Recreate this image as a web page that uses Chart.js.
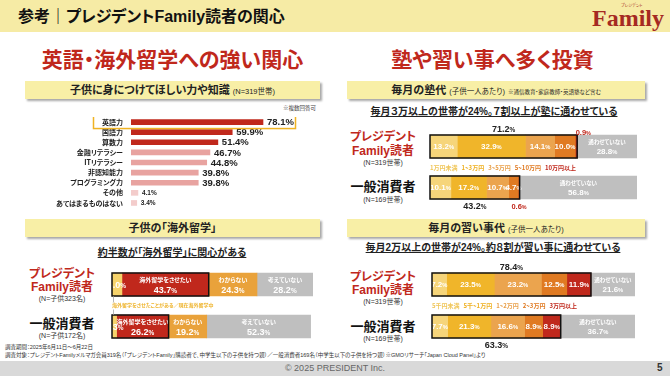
<!DOCTYPE html>
<html lang="ja">
<head>
<meta charset="utf-8">
<script src="https://cdn.jsdelivr.net/npm/chart.js@4.4.1/dist/chart.umd.min.js"></script>
<style>
body{margin:0;width:670px;height:376px;position:relative;overflow:hidden;background:#fff;
  font-family:'Liberation Sans','Noto Sans CJK JP',sans-serif;color:#222;font-feature-settings:"palt"}
.a{position:absolute;white-space:nowrap}
.c{text-align:center}
.band{position:absolute;left:0;top:0;width:670px;height:32px;background:#f6eba5}
.foot{position:absolute;left:0;top:361px;width:670px;height:15px;background:#d9d9d9}
.box{position:absolute;height:18px;line-height:18px;background:#f8efa6;box-shadow:2px 2px 2px #a9a9a9;text-align:center;font-weight:700;font-size:11px;white-space:nowrap}
.box small{font-weight:400;font-size:7.5px}
.box i{font-style:normal;font-weight:400;font-size:5.5px}
.big{font-size:21px;font-weight:700;color:#c0281c;line-height:24px}
.sub{font-size:10px;font-weight:700;text-decoration:underline;line-height:12px}
.red{color:#c0281c;font-weight:700;font-size:12px;line-height:13px}
.blk{color:#111;font-weight:700;font-size:13px;line-height:14px}
.n{font-size:7px;color:#333;line-height:9px}
.note{font-size:5.5px;color:#333;line-height:7px}
canvas{position:absolute}
</style>
</head>
<body>
<div class="band"></div>
<div class="a" style="left:18px;top:7px;font-size:16px;font-weight:700;line-height:20px;color:#111">参考｜プレジデントFamily読者の関心</div>
<div class="a" style="left:621px;top:3px;font-size:4px;color:#a52a22;line-height:5px">プレジデント</div>
<div class="a" style="left:592px;top:6px;font-family:'Liberation Serif',serif;font-weight:700;font-size:24px;line-height:24px;color:#a52a22">Family</div>

<div class="a c big" style="left:20px;top:48px;width:305px">英語・海外留学への強い関心</div>
<div class="a c big" style="left:345px;top:48px;width:295px">塾や習い事へ多く投資</div>

<div class="box" style="left:25px;top:81px;width:295px">子供に身につけてほしい力や知識 <small>(N=319世帯)</small></div>
<div class="box" style="left:347px;top:81px;width:298px">毎月の塾代 <small>(子供一人あたり)</small> <i>※通信教育・家庭教師・英語塾など含む</i></div>
<div class="box" style="left:25px;top:219px;width:295px">子供の「海外留学」</div>
<div class="box" style="left:347px;top:219px;width:298px">毎月の習い事代 <small>(子供一人あたり)</small></div>

<div class="a" style="left:283px;top:104px;font-size:5.5px;color:#444">※複数回答可</div>

<div class="a c sub" style="left:72px;top:247px;width:200px">約半数が「海外留学」に関心がある</div>
<div class="a c sub" style="left:364px;top:106px;width:260px">毎月３万以上の世帯が24%。７割以上が塾に通わせている</div>
<div class="a c sub" style="left:363px;top:242px;width:260px">毎月2万以上の世帯が24%。約８割が習い事に通わせている</div>

<div class="a c red" style="left:22px;top:268px;width:80px">プレジデント</div>
<div class="a c red" style="left:22px;top:281px;width:80px">Family読者</div>
<div class="a c n" style="left:22px;top:294px;width:80px">(N=子供323名)</div>
<div class="a c blk" style="left:22px;top:317px;width:80px">一般消費者</div>
<div class="a c n" style="left:22px;top:331px;width:80px">(N=子供172名)</div>

<div class="a c red" style="left:343px;top:131px;width:80px">プレジデント</div>
<div class="a c red" style="left:343px;top:145px;width:80px">Family読者</div>
<div class="a c n" style="left:343px;top:158px;width:80px">(N=319世帯)</div>
<div class="a c blk" style="left:343px;top:180px;width:80px">一般消費者</div>
<div class="a c n" style="left:343px;top:195px;width:80px">(N=169世帯)</div>

<div class="a c red" style="left:343px;top:271px;width:80px">プレジデント</div>
<div class="a c red" style="left:343px;top:284px;width:80px">Family読者</div>
<div class="a c n" style="left:343px;top:297px;width:80px">(N=319世帯)</div>
<div class="a c blk" style="left:343px;top:320px;width:80px">一般消費者</div>
<div class="a c n" style="left:343px;top:334px;width:80px">(N=169世帯)</div>

<div class="a note" style="left:5px;top:344px">調査期間：2025年6月11日～6月22日</div>
<div class="a note" style="left:5px;top:352px">調査対象：プレジデントFamilyメルマガ会員319名（「プレジデントFamily」購読者で、中学生以下の子供を持つ親）／一般消費者169名（中学生以下の子供を持つ親）※GMOリサーチ「Japan Cloud Panel」より</div>

<div class="foot"></div>
<div class="a c" style="left:235px;top:363px;width:200px;font-size:9px;line-height:11px;color:#666">© 2025 PRESIDENT Inc.</div>
<div class="a" style="left:657px;top:362px;font-size:10px;line-height:12px;color:#333;font-weight:700">5</div>

<canvas id="skillChart" width="300" height="91" style="left:0;top:117px"></canvas>
<canvas id="abroadChart" width="215" height="92" style="left:105px;top:258px"></canvas>
<canvas id="jukuChart" width="220" height="92" style="left:425px;top:120px"></canvas>
<canvas id="lessonChart" width="220" height="92" style="left:425px;top:258px"></canvas>

<script>
var JP = "'Noto Sans CJK JP'";
var NUM = "'Liberation Sans','Noto Sans CJK JP'";

// 子供に身につけてほしい力や知識
var skillLabels = ['英語力', '国語力', '算数力', '金融リテラシー', 'ITリテラシー', '非認知能力', 'プログラミング力', 'その他', 'あてはまるものはない'];
var skillValues = [78.1, 59.9, 51.4, 46.7, 44.8, 39.8, 39.8, 4.1, 3.4];

// 海外留学
var groupLabels = ['プレジデントFamily読者', '一般消費者'];
var abroadDone = [5.0, 2.3];
var abroadWant = [43.7, 26.2];
var abroadUnsure = [24.3, 19.2];
var abroadNot = [28.2, 52.3];

// 塾代
var jukuBands = ['1万円未満', '1~3万円', '3~5万円', '5~10万円', '10万円以上'];
var jukuUnder1 = [13.2, 10.1];
var juku1to3 = [32.9, 17.2];
var juku3to5 = [14.1, 10.7];
var juku5to10 = [10.0, 4.7];
var juku10plus = [0.9, 0.6];
var jukuNone = [28.8, 56.8];
var jukuTotal = [71.2, 43.2];

// 習い事代
var lessonBands = ['5千円未満', '5千~1万円', '1~2万円', '2~3万円', '3万円以上'];
var lessonUnder5k = [7.2, 7.7];
var lesson5kto1 = [23.5, 21.3];
var lesson1to2 = [23.2, 16.6];
var lesson2to3 = [12.5, 8.9];
var lesson3plus = [11.9, 8.9];
var lessonNone = [21.6, 36.7];
var lessonTotal = [78.4, 63.3];

var skillColors = ['#c0281c', '#c0281c', '#c0281c', '#e8a3a0', '#e8a3a0', '#e8a3a0', '#e8a3a0', '#f3cccb', '#f3cccb'];
var bandColors = ['#f6d57a', '#f0b52a', '#eba44e', '#e07a22', '#c0281c'];
var bandTextColors = ['#f0c659', '#efb020', '#e9a04a', '#e07a22', '#c0281c'];
var GRAY = '#bfbfbf';

function pct(ctx, v, x, y, size, color, align) {
    var n = v.toFixed(1), s2 = size * 0.72;
    ctx.font = 'bold ' + size + 'px ' + NUM;
    var w1 = ctx.measureText(n).width;
    ctx.font = 'bold ' + s2 + 'px ' + NUM;
    var w2 = ctx.measureText('%').width;
    var x0 = align == 'left' ? x : x - (w1 + w2) / 2;
    ctx.fillStyle = color;
    ctx.textAlign = 'left';
    ctx.textBaseline = 'alphabetic';
    ctx.font = 'bold ' + size + 'px ' + NUM;
    ctx.fillText(n, x0, y + size * 0.36);
    ctx.font = 'bold ' + s2 + 'px ' + NUM;
    ctx.fillText('%', x0 + w1, y + size * 0.36);
}

var skillPlugin = {
    id: 'skillPlugin',
    afterDatasetsDraw: function(chart) {
        var ctx = chart.ctx;
        var meta = chart.getDatasetMeta(0);
        ctx.save();
        meta.data.forEach(function(b, i) {
            var v = skillValues[i];
            var size = v < 10 ? 6.5 : 9.5;
            ctx.font = 'bold ' + size + 'px ' + NUM;
            ctx.fillStyle = '#222';
            ctx.textAlign = 'left';
            ctx.textBaseline = 'middle';
            ctx.fillText(v.toFixed(1) + '%', b.x + 4, b.y + 0.5);
        });
        // highlight round the first row
        var b0 = meta.data[0];
        ctx.strokeStyle = '#f0b323';
        ctx.lineWidth = 1.5;
        ctx.strokeRect(93.5, b0.y - 6.5, 202, 13);
        ctx.restore();
    }
};

new Chart(document.getElementById('skillChart'), {
    type: 'bar',
    data: {
        labels: skillLabels,
        datasets: [{ data: skillValues, backgroundColor: skillColors, barThickness: 5 }]
    },
    options: {
        indexAxis: 'y',
        responsive: false,
        animation: false,
        layout: { padding: 0 },
        plugins: { legend: { display: false }, tooltip: { enabled: false } },
        scales: {
            x: { display: false, min: 0, max: 100 },
            y: {
                afterFit: function(s) {
                    s.width = 131;
                    s.paddingTop = 0;
                    s.paddingBottom = 0;
                },
                grid: { display: false, drawTicks: false },
                border: { display: false },
                ticks: { autoSkip: false, padding: 8, color: '#222', font: { family: JP, size: 7, weight: 'bold' } }
            }
        }
    },
    plugins: [skillPlugin]
});

var segLabels = {
    id: 'segLabels',
    afterDatasetsDraw: function(chart, args, opts) {
        var ctx = chart.ctx;
        ctx.save();
        chart.data.datasets.forEach(function(ds, di) {
            chart.getDatasetMeta(di).data.forEach(function(el, i) {
                var v = ds.data[i];
                if (v < 2) return;
                var cx = (el.x + el.base) / 2;
                var t = opts.titles[di];
                if (t) {
                    ctx.font = 'bold ' + opts.titleSize[di] + 'px ' + JP;
                    ctx.fillStyle = '#fff';
                    ctx.textAlign = 'center';
                    ctx.textBaseline = 'middle';
                    ctx.fillText(t, cx, el.y - 4.5);
                    pct(ctx, v, cx, el.y + 5, opts.size, '#fff');
                } else {
                    pct(ctx, v, cx, el.y, opts.size, '#fff');
                }
            });
        });
        // black frame round the "yes" part
        var m0 = chart.getDatasetMeta(0), mE = chart.getDatasetMeta(opts.borderEnd);
        ctx.strokeStyle = '#111';
        ctx.lineWidth = 1.5;
        m0.data.forEach(function(el, i) {
            var r = mE.data[i];
            ctx.strokeRect(el.base, el.y - el.height / 2, r.x - el.base, el.height);
        });
        if (opts.extra) opts.extra(chart, ctx);
        ctx.restore();
    }
};

function drawBands(chart, ctx, names, y) {
    var x = chart.chartArea.left;
    ctx.font = 'bold 6px ' + JP;
    ctx.textAlign = 'left';
    ctx.textBaseline = 'middle';
    names.forEach(function(n, i) {
        ctx.fillStyle = bandTextColors[i];
        ctx.fillText(n, x, y);
        x += ctx.measureText(n).width + 4;
    });
}

function drawTotals(chart, ctx, totals, endIdx, smallIdx) {
    var m0 = chart.getDatasetMeta(0), mE = chart.getDatasetMeta(endIdx);
    var mS = smallIdx != null ? chart.getDatasetMeta(smallIdx) : null;
    [0, 1].forEach(function(i) {
        var a = m0.data[i], b = mE.data[i];
        var cx = (a.base + b.x) / 2;
        var y = i == 0 ? a.y - a.height / 2 - 6 : a.y + a.height / 2 + 7;
        pct(ctx, totals[i], cx, y, 9, '#222');
        if (mS) {
            var s = mS.data[i];
            var sx = (s.x + s.base) / 2 + (i == 0 ? 7 : 0);
            var sy = i == 0 ? a.y - a.height / 2 - 3 : a.y + a.height / 2 + 7;
            pct(ctx, chart.data.datasets[smallIdx].data[i], sx, sy, 7.5, '#c0281c');
        }
    });
}

function stackedOptions(max, pad, labelOpts) {
    return {
        indexAxis: 'y',
        responsive: false,
        animation: false,
        layout: { padding: pad },
        plugins: { legend: { display: false }, tooltip: { enabled: false }, segLabels: labelOpts },
        scales: {
            x: { display: false, stacked: true, min: 0, max: max },
            y: { display: false, stacked: true }
        }
    };
}

function seg(data, color) {
    return { data: data, backgroundColor: color, barThickness: 23, borderWidth: 0 };
}

new Chart(document.getElementById('abroadChart'), {
    type: 'bar',
    data: {
        labels: groupLabels,
        datasets: [
            seg(abroadDone, '#f6d36b'),
            seg(abroadWant, '#c0281c'),
            seg(abroadUnsure, '#e9a23b'),
            seg(abroadNot, GRAY)
        ]
    },
    options: stackedOptions(101.2, { top: 5.5, bottom: 2.5, left: 7, right: 7 }, {
        titles: ['', '海外留学をさせたい', 'わからない', '考えていない'],
        titleSize: [6, 6, 6, 6],
        size: 9,
        borderEnd: 1,
        extra: function(chart, ctx) {
            var a = chart.getDatasetMeta(0).data[0], b = chart.getDatasetMeta(0).data[1];
            var top = a.y + a.height / 2, bot = b.y - b.height / 2, mid = (top + bot) / 2;
            var lx = chart.chartArea.left + 1.5;
            ctx.strokeStyle = '#999';
            ctx.lineWidth = 0.7;
            ctx.beginPath();
            ctx.moveTo(lx, top); ctx.lineTo(lx, mid - 3);
            ctx.moveTo(lx, mid + 4); ctx.lineTo(lx, bot);
            ctx.stroke();
            ctx.font = 'bold 5px ' + JP;
            ctx.fillStyle = '#eeb32b';
            ctx.textAlign = 'left';
            ctx.textBaseline = 'middle';
            ctx.fillText('海外留学をさせたことがある／現在海外留学中', chart.chartArea.left, mid);
        }
    }),
    plugins: [segLabels]
});

new Chart(document.getElementById('jukuChart'), {
    type: 'bar',
    data: {
        labels: groupLabels,
        datasets: [
            seg(jukuUnder1, bandColors[0]),
            seg(juku1to3, bandColors[1]),
            seg(juku3to5, bandColors[2]),
            seg(juku5to10, bandColors[3]),
            seg(juku10plus, bandColors[4]),
            seg(jukuNone, GRAY)
        ]
    },
    options: stackedOptions(100, { top: 6, bottom: 4, left: 5, right: 8 }, {
        titles: ['', '', '', '', '', '通わせていない'],
        titleSize: [0, 0, 0, 0, 0, 5.5],
        size: 8,
        borderEnd: 4,
        extra: function(chart, ctx) {
            var a = chart.getDatasetMeta(0).data[0], b = chart.getDatasetMeta(0).data[1];
            drawBands(chart, ctx, jukuBands, (a.y + a.height / 2 + b.y - b.height / 2) / 2 + 1);
            drawTotals(chart, ctx, jukuTotal, 4, 4);
        }
    }),
    plugins: [segLabels]
});

new Chart(document.getElementById('lessonChart'), {
    type: 'bar',
    data: {
        labels: groupLabels,
        datasets: [
            seg(lessonUnder5k, bandColors[0]),
            seg(lesson5kto1, bandColors[1]),
            seg(lesson1to2, bandColors[2]),
            seg(lesson2to3, bandColors[3]),
            seg(lesson3plus, bandColors[4]),
            seg(lessonNone, GRAY)
        ]
    },
    options: stackedOptions(100, { top: 5.5, bottom: 2.5, left: 7, right: 10 }, {
        titles: ['', '', '', '', '', '通わせていない'],
        titleSize: [0, 0, 0, 0, 0, 5.5],
        size: 8,
        borderEnd: 4,
        extra: function(chart, ctx) {
            var a = chart.getDatasetMeta(0).data[0], b = chart.getDatasetMeta(0).data[1];
            drawBands(chart, ctx, lessonBands, (a.y + a.height / 2 + b.y - b.height / 2) / 2);
            drawTotals(chart, ctx, lessonTotal, 4, null);
        }
    }),
    plugins: [segLabels]
});
</script>
</body>
</html>
